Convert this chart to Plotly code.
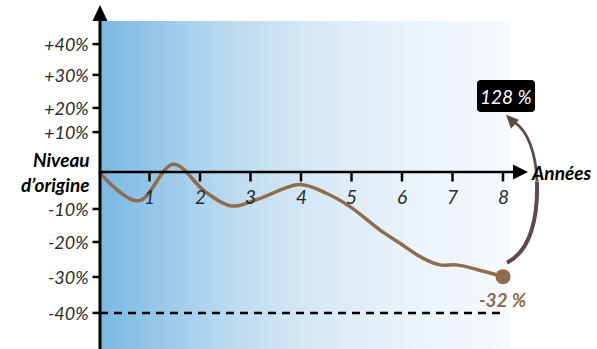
import plotly.graph_objects as go

# ---- data -------------------------------------------------------------
years = [0, 0.78, 1.47, 2.1, 2.62, 3.15, 3.97, 4.5, 4.97, 5.56, 5.96, 6.42, 6.75, 7.08, 7.48, 8.0]
change = [0, -8.8, 2.4, -6.0, -10.4, -8.3, -3.8, -6.5, -10.6, -17.7, -21.8, -26.4, -28.4, -28.4, -29.8, -32]

x_ticks = [1, 2, 3, 4, 5, 6, 7, 8]
y_tick_pos = [39.1, 29.7, 19.6, 12.2, -11.3, -21.4, -32.1, -43.1]
y_tick_text = ["+40%", "+30%", "+20%", "+10%", "-10%", "-20%", "-30%", "-40%"]
floor_level = -43.1

end_label = "-32 %"
total_label = "128 %"

# ---- geometry of the canvas ---------------------------------------------
W, H = 597, 349
PX_PER_YEAR = 50.5
X0_PX = 99.0
PX_PER_PCT = 3.27
Y0_PX = 172.0

x_range = [-X0_PX / PX_PER_YEAR, (W - X0_PX) / PX_PER_YEAR]
y_range = [(Y0_PX - H) / PX_PER_PCT, Y0_PX / PX_PER_PCT]


def dx(px):
    return (px - X0_PX) / PX_PER_YEAR


def dy(py):
    return (Y0_PX - py) / PX_PER_PCT


def to_px(x, y):
    return X0_PX + x * PX_PER_YEAR, Y0_PX - y * PX_PER_PCT


def pt(p):
    return f"{dx(p[0]):.4f},{dy(p[1]):.4f}"


def polygon(points_px):
    """Closed polygon path in data units from pixel-space corners."""
    s = "M " + pt(points_px[0])
    for p in points_px[1:]:
        s += " L " + pt(p)
    return s + " Z"


def cubic(p0, c1, c2, p1):
    return f"M {pt(p0)} C {pt(c1)} {pt(c2)} {pt(p1)}"


FONT = "Lato, 'Open Sans', sans-serif"
BROWN = "rgb(141,109,77)"
ARROW = "rgb(92,76,72)"

fig = go.Figure()

# background gradient panel
fig.add_trace(go.Scatter(
    x=[dx(101), dx(510), dx(510), dx(101), dx(101)],
    y=[dy(21), dy(21), dy(349), dy(349), dy(21)],
    mode="lines", fill="toself", line=dict(width=0),
    fillgradient=dict(type="horizontal", colorscale=[
        [0.0, "rgb(122,185,227)"],
        [0.333, "rgb(190,220,240)"],
        [0.52, "rgb(215,233,246)"],
        [0.76, "rgb(235,243,250)"],
        [1.0, "rgb(246,249,253)"],
    ]),
    hoverinfo="skip", showlegend=False,
))

# value curve
fig.add_trace(go.Scatter(
    x=years, y=change, mode="lines",
    line=dict(color=BROWN, width=3.5, shape="spline", smoothing=1.0),
    hoverinfo="skip", showlegend=False,
))
# end point marker
fig.add_trace(go.Scatter(
    x=[years[-1]], y=[change[-1]], mode="markers",
    marker=dict(color=BROWN, size=15),
    hoverinfo="skip", showlegend=False,
))

shapes = []
annotations = []

# floor dashed line
shapes.append(dict(type="line", xref="x", yref="y", x0=dx(100), x1=years[-1],
                   y0=floor_level, y1=floor_level,
                   line=dict(color="black", width=2.5, dash="8px,6px")))

# vertical axis + arrow
shapes.append(dict(type="line", xref="x", yref="y", x0=dx(100), x1=dx(100),
                   y0=dy(20), y1=dy(350), line=dict(color="black", width=3)))
shapes.append(dict(type="path", xref="x", yref="y",
                   path=polygon([(100, 5), (92.5, 21), (107.5, 21)]),
                   fillcolor="black", line=dict(width=0)))

# horizontal axis + arrow
shapes.append(dict(type="line", xref="x", yref="y", x0=dx(100), x1=dx(515),
                   y0=0, y1=0, line=dict(color="black", width=2.5)))
shapes.append(dict(type="path", xref="x", yref="y",
                   path=polygon([(528, 172), (513, 164.5), (513, 179.5)]),
                   fillcolor="black", line=dict(width=0)))

# x ticks and labels
for t in x_ticks:
    shapes.append(dict(type="line", xref="x", yref="y", x0=t, x1=t,
                       y0=0, y1=dy(181.5), line=dict(color="black", width=2.5)))
    annotations.append(dict(x=t, y=dy(196), xref="x", yref="y", text=str(t),
                            showarrow=False, xanchor="center", yanchor="middle",
                            font=dict(family=FONT, size=19, color="#2b2b2b", style="italic")))

# y ticks and labels
for v, txt in zip(y_tick_pos, y_tick_text):
    shapes.append(dict(type="line", xref="x", yref="y", x0=dx(92.5), x1=dx(100),
                       y0=v, y1=v, line=dict(color="black", width=2.5)))
    annotations.append(dict(x=dx(91), y=v, xref="x", yref="y", text=txt,
                            showarrow=False, xanchor="right", yanchor="middle",
                            font=dict(family=FONT, size=18, color="#2b2b2b", style="italic")))

# axis titles
annotations.append(dict(x=dx(92), y=dy(171.5), xref="x", yref="y",
                        text="Niveau<br>d’origine", showarrow=False,
                        xanchor="right", yanchor="middle", align="right",
                        font=dict(family=FONT, size=19, color="black",
                                  style="italic", weight="bold")))
annotations.append(dict(x=dx(529), y=0, xref="x", yref="y", text="Années",
                        showarrow=False, xanchor="left", yanchor="middle",
                        font=dict(family=FONT, size=19, color="black",
                                  style="italic", weight="bold")))

# end value label
ex, ey = to_px(years[-1], change[-1])
annotations.append(dict(x=years[-1], y=change[-1], xref="x", yref="y", text=end_label,
                        showarrow=False, xanchor="center", yanchor="middle", yshift=-23,
                        font=dict(family=FONT, size=19, color=BROWN,
                                  style="italic", weight="bold")))

# curved arrow from the end point up to the total box
shapes.append(dict(type="path", xref="x", yref="y",
                   path=cubic((ex + 4, ey - 14), (ex + 28, ey - 26), (ex + 35, ey - 60), (ex + 34, ey - 95)),
                   line=dict(color=ARROW, width=4)))
shapes.append(dict(type="path", xref="x", yref="y",
                   path=cubic((ex + 34, ey - 95), (ex + 33, ey - 125), (ex + 24, ey - 146), (ex + 12, ey - 154)),
                   line=dict(color=ARROW, width=2.8)))
shapes.append(dict(type="path", xref="x", yref="y",
                   path=polygon([(ex + 3, ey - 162), (ex + 16, ey - 157), (ex + 8, ey - 148)]),
                   fillcolor=ARROW, line=dict(width=0)))

# total box with rounded corners
bx0, by0, bx1, by1, r = 477, 80, 535, 112, 4
box_path = (f"M {pt((bx0 + r, by0))} L {pt((bx1 - r, by0))} Q {pt((bx1, by0))} {pt((bx1, by0 + r))} "
            f"L {pt((bx1, by1 - r))} Q {pt((bx1, by1))} {pt((bx1 - r, by1))} "
            f"L {pt((bx0 + r, by1))} Q {pt((bx0, by1))} {pt((bx0, by1 - r))} "
            f"L {pt((bx0, by0 + r))} Q {pt((bx0, by0))} {pt((bx0 + r, by0))} Z")
shapes.append(dict(type="path", xref="x", yref="y", path=box_path,
                   fillcolor="black", line=dict(width=0)))
annotations.append(dict(x=dx((bx0 + bx1) / 2), y=dy((by0 + by1) / 2), xref="x", yref="y",
                        text=total_label, showarrow=False, xanchor="center", yanchor="middle",
                        font=dict(family=FONT, size=19, color="white", style="italic")))

fig.update_layout(
    width=W, height=H,
    margin=dict(l=0, r=0, t=0, b=0),
    paper_bgcolor="white", plot_bgcolor="white",
    xaxis=dict(range=x_range, visible=False, fixedrange=True),
    yaxis=dict(range=y_range, visible=False, fixedrange=True),
    shapes=shapes, annotations=annotations,
    showlegend=False,
)

fig.write_html("out.html", config={"displayModeBar": False})
